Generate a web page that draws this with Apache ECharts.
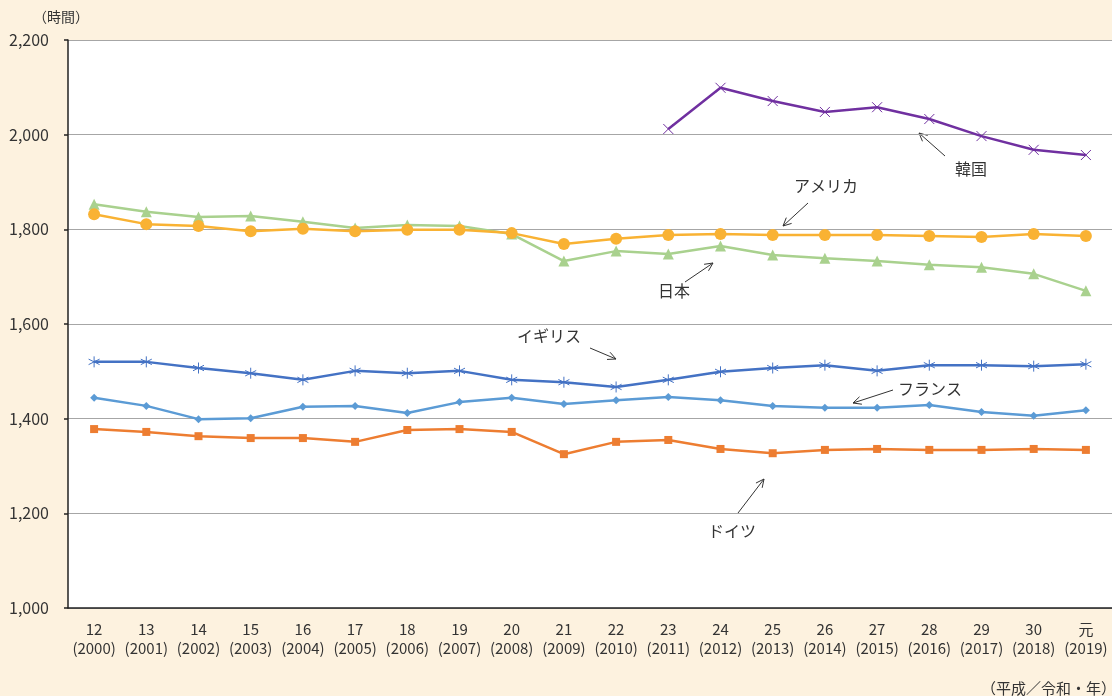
<!DOCTYPE html>
<html>
<head>
<meta charset="utf-8">
<script src="https://cdn.jsdelivr.net/npm/echarts@6/dist/echarts.min.js"></script>
<style>
  html, body { margin: 0; padding: 0; background: #fdf2df; }
  #main { width: 1112px; height: 696px; }
</style>
</head>
<body>
<div id="main"></div>
<script>
// 年（平成／令和）
var years = ['12\n(2000)', '13\n(2001)', '14\n(2002)', '15\n(2003)', '16\n(2004)', '17\n(2005)', '18\n(2006)',
  '19\n(2007)', '20\n(2008)', '21\n(2009)', '22\n(2010)', '23\n(2011)', '24\n(2012)', '25\n(2013)',
  '26\n(2014)', '27\n(2015)', '28\n(2016)', '29\n(2017)', '30\n(2018)', '元\n(2019)'];

// 年間労働時間
var japan = [1853, 1837, 1826, 1828, 1816, 1803, 1809, 1807, 1790, 1733, 1754, 1748, 1765, 1746, 1739, 1733, 1725, 1720, 1706, 1670];
var usa = [1832, 1811, 1807, 1796, 1801, 1796, 1799, 1799, 1792, 1769, 1780, 1788, 1790, 1788, 1788, 1788, 1786, 1784, 1790, 1786];
var korea = [null, null, null, null, null, null, null, null, null, null, null, 2012, 2099, 2071, 2048, 2058, 2033, 1997, 1968, 1957];
var uk = [1520, 1520, 1507, 1496, 1482, 1501, 1496, 1501, 1482, 1477, 1467, 1482, 1499, 1507, 1513, 1501, 1513, 1513, 1511, 1515];
var france = [1444, 1427, 1399, 1401, 1425, 1427, 1412, 1435, 1444, 1431, 1439, 1446, 1439, 1427, 1423, 1423, 1429, 1414, 1406, 1418];
var germany = [1378, 1372, 1363, 1359, 1359, 1351, 1376, 1378, 1372, 1325, 1351, 1355, 1336, 1327, 1334, 1336, 1334, 1334, 1336, 1334];

var font = '"Noto Sans CJK JP", "Noto Sans", sans-serif';

// 矢印（注記）
function arrow(x1, y1, x2, y2) {
  var a = Math.atan2(y2 - y1, x2 - x1);
  var h = 9, s = 0.45;
  return [
    { type: 'line', shape: { x1: x1, y1: y1, x2: x2, y2: y2 }, style: { stroke: '#333', lineWidth: 1 } },
    { type: 'polyline', shape: { points: [
        [x2 - h * Math.cos(a - s), y2 - h * Math.sin(a - s)], [x2, y2],
        [x2 - h * Math.cos(a + s), y2 - h * Math.sin(a + s)]] },
      style: { stroke: '#333', lineWidth: 1, fill: null } }
  ];
}
function label(x, y, t, align, size) {
  return { type: 'text', x: x, y: y, style: { text: t, font: (size || 16) + 'px ' + font, fill: '#333',
    align: align || 'center', verticalAlign: 'middle' } };
}

var graphics = [
  label(61, 17, '（時間）', 'center', 14),
  label(1116, 688, '（平成／令和・年）', 'right', 15),
  label(971, 169, '韓国'), label(826, 186, 'アメリカ'), label(674, 291, '日本'),
  label(549, 336, 'イギリス'), label(930, 389, 'フランス'), label(732, 531, 'ドイツ')
].concat(arrow(945, 156, 919, 133), arrow(808, 203, 783, 226), arrow(685, 282, 713, 263),
  arrow(590, 348, 616, 359), arrow(893, 390, 853, 403), arrow(738, 513, 764, 479));

var xSym = 'path://M0,0L10,10M10,0L0,10';
var starSym = 'path://M5,0L5,10M0.7,2.5L9.3,7.5M9.3,2.5L0.7,7.5';

function ser(name, data, color, symbol, size, extra) {
  var s = {
    name: name, type: 'line', data: data, symbol: symbol, symbolSize: size,
    lineStyle: { color: color, width: 2.5 },
    itemStyle: { color: color },
    emphasis: { disabled: true }
  };
  if (extra) s.itemStyle = Object.assign(s.itemStyle, extra);
  return s;
}

var chart = echarts.init(document.getElementById('main'));
chart.setOption({
  backgroundColor: '#fdf2df',
  animation: false,
  textStyle: { fontFamily: font },
  grid: { left: 68, right: 0, top: 40, bottom: 88, show: true, backgroundColor: '#fff', borderWidth: 0 },
  xAxis: {
    type: 'category', data: years, boundaryGap: true,
    axisLine: { lineStyle: { color: '#222', width: 1.5 } },
    axisTick: { inside: true, length: 5, lineStyle: { color: '#222', width: 1.5 } },
    axisLabel: { color: '#333', fontSize: 15, lineHeight: 19, margin: 12, interval: 0 }
  },
  yAxis: {
    type: 'value', min: 1000, max: 2200, interval: 200,
    axisLine: { show: true, lineStyle: { color: '#222', width: 1.5 } },
    axisTick: { show: true, length: 4, lineStyle: { color: '#222', width: 1.5 } },
    axisLabel: { color: '#333', fontSize: 16, margin: 19,
      formatter: function (v) { return v.toLocaleString('en-US'); } },
    splitLine: { lineStyle: { color: '#a6a6a6', width: 1 } }
  },
  graphic: graphics,
  series: [
    ser('日本', japan, '#a9d18e', 'triangle', 11),
    ser('アメリカ', usa, '#f9b233', 'circle', 12),
    ser('韓国', korea, '#7030a0', xSym, 10, { borderColor: '#7030a0', borderWidth: 1 }),
    ser('イギリス', uk, '#4472c4', starSym, 11, { borderColor: '#4472c4', borderWidth: 1 }),
    ser('フランス', france, '#5b9bd5', 'diamond', 8),
    ser('ドイツ', germany, '#ed7d31', 'rect', 8)
  ]
});
</script>
</body>
</html>
